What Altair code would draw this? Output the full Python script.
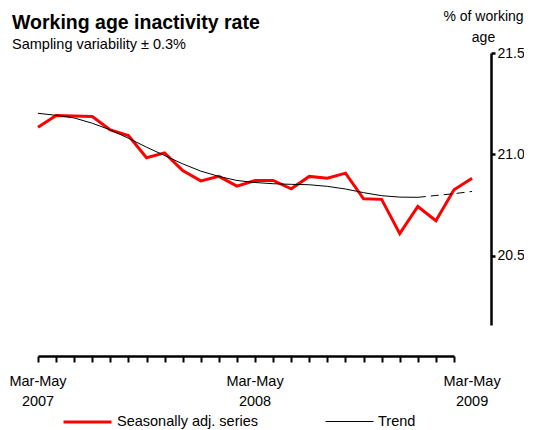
import altair as alt
import pandas as pd

FONT = "Liberation Sans"

periods = [
    "Mar-May 2007", "Apr-Jun 2007", "May-Jul 2007", "Jun-Aug 2007", "Jul-Sep 2007",
    "Aug-Oct 2007", "Sep-Nov 2007", "Oct-Dec 2007", "Nov-Jan 2008", "Dec-Feb 2008",
    "Jan-Mar 2008", "Feb-Apr 2008", "Mar-May 2008", "Apr-Jun 2008", "May-Jul 2008",
    "Jun-Aug 2008", "Jul-Sep 2008", "Aug-Oct 2008", "Sep-Nov 2008", "Oct-Dec 2008",
    "Nov-Jan 2009", "Dec-Feb 2009", "Jan-Mar 2009", "Feb-Apr 2009", "Mar-May 2009",
]
seasonally_adj = [
    21.134, 21.192, 21.190, 21.187, 21.121, 21.093, 20.984, 21.008, 20.921, 20.870,
    20.892, 20.844, 20.872, 20.872, 20.831, 20.892, 20.883, 20.908, 20.782, 20.779,
    20.610, 20.744, 20.674, 20.826, 20.883,
]
trend = [
    21.203, 21.193, 21.180, 21.154, 21.121, 21.080, 21.036, 20.995, 20.954, 20.918,
    20.892, 20.872, 20.862, 20.856, 20.853, 20.851, 20.843, 20.830, 20.812, 20.797,
    20.790, 20.789, 20.798, 20.807, 20.818,
]
trend_provisional_from = "Dec-Feb 2009"
axis_label_periods = ["Mar-May 2007", "Mar-May 2008", "Mar-May 2009"]
y_ticks = [20.5, 21.0, 21.5]
series_names = ["Seasonally adj. series", "Trend"]

title_text = "Working age inactivity rate"
subtitle_text = "Sampling variability \u00b1 0.3%"
y_title = ["% of working", "age"]

idx = list(range(len(periods)))
split = periods.index(trend_provisional_from)

sa_df = pd.DataFrame({"idx": idx, "period": periods, "value": seasonally_adj,
                      "series": series_names[0]})
tr_df = pd.DataFrame({"idx": idx, "period": periods, "value": trend,
                      "series": series_names[1]})
tr_solid = tr_df.iloc[: split + 1]
tr_dash = tr_df.iloc[split:]

lab_df = pd.DataFrame({
    "idx": [periods.index(p) for p in axis_label_periods],
    "label": [p.replace(" ", "\n") for p in axis_label_periods],
})

W, H = 416, 272
x_scale = alt.Scale(domain=[0, 23], nice=False, zero=False)
y_scale = alt.Scale(domain=[20.16, 21.5], nice=False, zero=False)

x_axis = alt.Axis(values=list(range(24)), labels=False, title=None, grid=False,
                  orient="bottom", offset=31, tickSize=6, tickWidth=2,
                  domainWidth=2.5, domainColor="black", tickColor="black")
y_axis = alt.Axis(values=y_ticks, format=".1f", orient="right", offset=37,
                  grid=False, tickSize=4, tickWidth=2.5, domainWidth=2.5,
                  domainColor="black", tickColor="black", labelPadding=2,
                  labelFontSize=14, labelColor="black", labelFont=FONT,
                  title=y_title, titleAngle=0, titleAlign="center",
                  titleBaseline="alphabetic", titleX=-8, titleY=-33,
                  titleFontWeight="normal", titleFontSize=14, titleFont=FONT,
                  titleColor="black", titleLineHeight=21)

legend_props = dict(title=None, orient="none", legendX=24, legendY=343.5,
                    direction="horizontal", symbolType="stroke",
                    symbolSize=2304, labelFontSize=14.5, labelFont=FONT,
                    labelColor="black", labelOffset=4, columnPadding=64,
                    padding=0)
color = alt.Color("series:N",
                  scale=alt.Scale(domain=series_names, range=["#ff0000", "#000000"]),
                  legend=alt.Legend(**legend_props))
width_enc = alt.StrokeWidth("series:N", scale=alt.Scale(domain=series_names, range=[3, 1]),
                            legend=alt.Legend(**legend_props))

X = alt.X("idx:Q", scale=x_scale, axis=x_axis)
Y = alt.Y("value:Q", scale=y_scale, axis=y_axis)

sa_line = alt.Chart(sa_df).mark_line().encode(
    x=X, y=Y, color=color, strokeWidth=width_enc,
    tooltip=["period:N", "value:Q"],
)
tr_line = alt.Chart(tr_solid).mark_line().encode(
    x=X, y=Y, color=color, strokeWidth=width_enc,
)
tr_dash_line = alt.Chart(tr_dash).mark_line(strokeDash=[8, 5]).encode(
    x=X, y=Y, color=color, strokeWidth=width_enc,
)
x_labels = alt.Chart(lab_df).mark_text(
    lineBreak="\n", align="center", baseline="alphabetic", fontSize=14.5,
    font=FONT, color="black", lineHeight=20,
).encode(x=X, y=alt.value(H + 61), text="label:N")

title_mark = alt.Chart(pd.DataFrame({"t": [title_text]})).mark_text(
    align="left", baseline="alphabetic", fontSize=19.5, fontWeight="bold",
    font=FONT, color="black",
).encode(x=alt.value(-26), y=alt.value(-24.5), text="t:N")
subtitle_mark = alt.Chart(pd.DataFrame({"t": [subtitle_text]})).mark_text(
    align="left", baseline="alphabetic", fontSize=14.5, font=FONT, color="black",
).encode(x=alt.value(-26), y=alt.value(-4), text="t:N")

chart = alt.layer(sa_line, tr_line, tr_dash_line, x_labels, title_mark, subtitle_mark).properties(
    width=W, height=H,
    autosize=alt.AutoSizeParams(type="none"),
    padding={"left": 30, "top": 45, "right": 70, "bottom": 105},
    background="white",
).configure_view(strokeWidth=0, stroke="transparent")

chart.save("out.html", embed_options={"renderer": "svg", "actions": False})
